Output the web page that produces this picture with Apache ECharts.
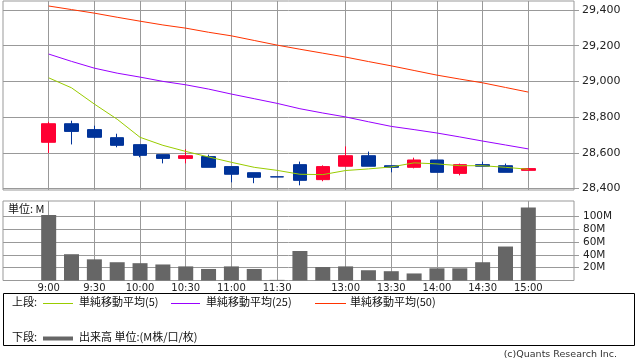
<!DOCTYPE html>
<html><head><meta charset="utf-8">
<script src="https://cdn.jsdelivr.net/npm/echarts@6/dist/echarts.min.js"></script>
<style>html,body{margin:0;padding:0;background:#fff}#c{width:638px;height:362px}</style>
</head><body><div id="c"></div>
<script>
const times = ['9:00','9:15','9:30','9:45','10:00','10:15','10:30','10:45','11:00','11:15','11:30',
  '12:30','12:45','13:00','13:15','13:30','13:45','14:00','14:15','14:30','14:45','15:00'];
const labelTimes = ['9:00','9:30','10:00','10:30','11:00','11:30','13:00','13:30','14:00','14:30','15:00'];
const opens  = [28659,28763,28730,28685,28646,28590,28569,28579,28523,28489,28466,28534,28450,28525,28584,28528,28519,28560,28485,28534,28528,28502];
const closes = [28763,28720,28687,28642,28586,28569,28584,28519,28480,28463,28465,28446,28523,28584,28525,28519,28560,28491,28534,28525,28491,28512];
const lows   = [28599,28647,28681,28631,28575,28541,28541,28519,28435,28430,28465,28418,28441,28525,28525,28491,28513,28491,28474,28525,28491,28502];
const highs  = [28774,28780,28752,28707,28646,28590,28620,28590,28523,28489,28466,28551,28530,28636,28607,28528,28573,28560,28540,28551,28540,28512];
const ma5  = [29020,28964,28873,28788,28687,28642,28608,28577,28547,28519,28502,28480,28478,28501,28510,28521,28544,28538,28528,28528,28519,28508];
const ma25 = [29153,29112,29074,29046,29024,29000,28981,28957,28929,28903,28877,28847,28823,28801,28774,28748,28730,28711,28689,28666,28644,28622];
const ma50 = [29422,29402,29382,29359,29337,29316,29298,29275,29255,29229,29203,29180,29158,29136,29111,29087,29061,29035,29013,28992,28966,28940];
const volume = [102,41,33,28.5,27,25,22,18,22,18,1,46,21,22,16,14.5,11,19,19,28.5,53,114];
const priceTicks = [28400,28600,28800,29000,29200,29400];
const volumeTicks = [20,40,60,80,100];

const padL = ['p1','p2'], padR = ['p3','p4'];
const cats = padL.concat(times, padR);
const pad = arr => ['-','-'].concat(arr, ['-','-']);
const candles = pad(times.map((t,i)=>[opens[i],closes[i],lows[i],highs[i]]));
const showAt = (idx, val) => labelTimes.indexOf(val) >= 0;
const GRID = '#999999';
const NUM_FONT = 'DejaVu Sans';
const JP_FONT = '"Noto Sans CJK JP", sans-serif';

const chart = echarts.init(document.getElementById('c'), null, {renderer:'canvas'});
chart.setOption({
  animation:false,
  backgroundColor:'#ffffff',
  grid:[
    {left:3, right:64, top:1, bottom:172, show:true, borderColor:GRID, borderWidth:1},
    {left:3, right:64, top:201, bottom:81.5, show:true, borderColor:GRID, borderWidth:1}
  ],
  xAxis:[
    {type:'category', gridIndex:0, data:cats, boundaryGap:false,
     axisLine:{show:false}, axisTick:{show:false}, axisLabel:{show:false},
     splitLine:{show:true, interval:showAt, lineStyle:{color:GRID, width:1}}},
    {type:'category', gridIndex:1, data:cats, boundaryGap:false,
     axisLine:{show:false}, axisTick:{show:false},
     axisLabel:{show:true, interval:showAt, fontSize:10, color:'#222', margin:3, fontFamily:NUM_FONT},
     splitLine:{show:true, interval:showAt, lineStyle:{color:GRID, width:1}}}
  ],
  yAxis:[
    {type:'value', gridIndex:0, position:'right', min:28392, max:29450, scale:true,
     axisLine:{show:false},
     axisTick:{show:true, length:5, lineStyle:{color:GRID}, customValues:priceTicks},
     axisLabel:{customValues:priceTicks, fontSize:11, color:'#222', margin:8, fontFamily:NUM_FONT,
       formatter:v=>Number(v).toLocaleString('en-US')},
     splitLine:{show:true, lineStyle:{color:GRID, width:1}}},
    {type:'value', gridIndex:1, position:'right', min:0, max:124,
     axisLine:{show:false},
     axisTick:{show:true, length:5, lineStyle:{color:GRID}, customValues:volumeTicks},
     axisLabel:{customValues:volumeTicks, fontSize:10.5, color:'#222', margin:9, fontFamily:NUM_FONT,
       formatter:v=>v+'M'},
     splitLine:{show:true, lineStyle:{color:GRID, width:1}}}
  ],
  series:[
    {type:'candlestick', name:'株価', xAxisIndex:0, yAxisIndex:0, data:candles, barWidth:14,
     itemStyle:{color:'#ff0033', color0:'#003399', borderColor:'#ff0033', borderColor0:'#003399', borderWidth:1}, z:2},
    {type:'line', name:'単純移動平均(5)', xAxisIndex:0, yAxisIndex:0, data:pad(ma5), showSymbol:false, symbol:'none',
     lineStyle:{color:'#99cc00', width:1}, itemStyle:{color:'#99cc00'}, z:3},
    {type:'line', name:'単純移動平均(25)', xAxisIndex:0, yAxisIndex:0, data:pad(ma25), showSymbol:false, symbol:'none',
     lineStyle:{color:'#9900ff', width:1}, itemStyle:{color:'#9900ff'}, z:3},
    {type:'line', name:'単純移動平均(50)', xAxisIndex:0, yAxisIndex:0, data:pad(ma50), showSymbol:false, symbol:'none',
     lineStyle:{color:'#ff3300', width:1}, itemStyle:{color:'#ff3300'}, z:3},
    {type:'bar', name:'出来高', xAxisIndex:1, yAxisIndex:1, data:pad(volume), barWidth:15,
     itemStyle:{color:'#666666'}, z:2}
  ],
  graphic:[
    {type:'text', left:8, top:203, style:{text:'単位: M', font:'11px '+JP_FONT, fill:'#111'}},
    {type:'rect', shape:{x:3.5, y:293.5, width:631, height:52}, style:{fill:'none', stroke:'#000', lineWidth:1}},
    {type:'text', left:12, top:296, style:{text:'上段:', font:'11px '+JP_FONT, fill:'#111'}},
    {type:'line', shape:{x1:43, y1:303.5, x2:73, y2:303.5}, style:{stroke:'#99cc00', lineWidth:1}},
    {type:'text', left:79, top:296, style:{text:'単純移動平均(5)', font:'11px '+JP_FONT, fill:'#111'}},
    {type:'line', shape:{x1:171, y1:303.5, x2:200, y2:303.5}, style:{stroke:'#9900ff', lineWidth:1}},
    {type:'text', left:206, top:296, style:{text:'単純移動平均(25)', font:'11px '+JP_FONT, fill:'#111'}},
    {type:'line', shape:{x1:315, y1:303.5, x2:346, y2:303.5}, style:{stroke:'#ff3300', lineWidth:1}},
    {type:'text', left:350, top:296, style:{text:'単純移動平均(50)', font:'11px '+JP_FONT, fill:'#111'}},
    {type:'text', left:12, top:331, style:{text:'下段:', font:'11px '+JP_FONT, fill:'#111'}},
    {type:'line', shape:{x1:43, y1:338.5, x2:73, y2:338.5}, style:{stroke:'#666666', lineWidth:4}},
    {type:'text', left:79, top:331, style:{text:'出来高 単位:(M株/口/枚)', font:'11px '+JP_FONT, fill:'#111'}},
    {type:'text', right:21, top:350, style:{text:'(c)Quants Research Inc.', font:'9.5px '+NUM_FONT, fill:'#333'}}
  ]
});
</script></body></html>
